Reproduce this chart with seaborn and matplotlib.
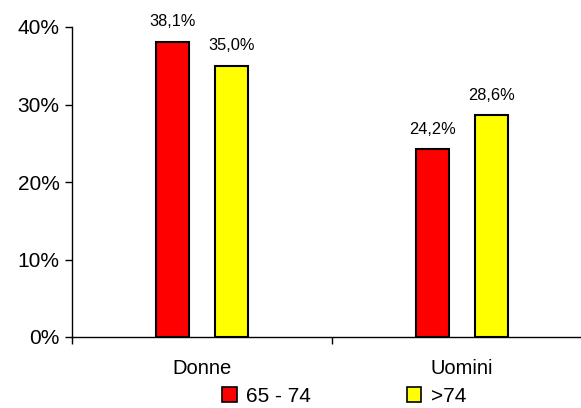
import matplotlib
matplotlib.use("Agg")
import matplotlib.pyplot as plt
from matplotlib.ticker import FixedLocator, FuncFormatter
from matplotlib.patches import Patch
import seaborn as sns
import pandas as pd

categories = ["Donne", "Uomini"]
groups = ["65 - 74", ">74"]
values_65_74 = [38.1, 24.2]
values_over74 = [35.0, 28.6]
colors = ["#FF0000", "#FFFF00"]
yticks = [0, 10, 20, 30, 40]

df = pd.DataFrame({
    "sesso": categories * 2,
    "eta": [groups[0]] * 2 + [groups[1]] * 2,
    "valore": values_65_74 + values_over74,
})

sns.set_style("white")
plt.rcParams["font.family"] = ["Liberation Sans", "DejaVu Sans"]
plt.rcParams["text.color"] = "black"
plt.rcParams["xtick.color"] = "black"
plt.rcParams["ytick.color"] = "black"

fig = plt.figure(figsize=(5.81, 4.08), dpi=100)
ax = fig.add_axes([72 / 581, 1 - 337 / 408, 520 / 581, 310 / 408])

sns.barplot(data=df, x="sesso", y="valore", hue="eta", order=categories,
            hue_order=groups, palette=colors, saturation=1, width=0.453, gap=0.426,
            edgecolor="black", linewidth=1.5, errorbar=None, legend=False, ax=ax)

ax.set_xlim(-0.5, 1.5)
ax.set_ylim(0, 40)
ax.yaxis.set_major_locator(FixedLocator(yticks))
ax.yaxis.set_major_formatter(FuncFormatter(lambda v, p: f"{v:.0f}%"))
ax.tick_params(axis="y", which="major", left=True, length=5, width=1,
               color="black", labelcolor="black", labelsize=15, pad=4)
ax.tick_params(axis="x", which="major", bottom=False, labelcolor="black",
               labelsize=14.5, pad=12)
ax.xaxis.set_minor_locator(FixedLocator([-0.5, 0.5, 1.5]))
ax.tick_params(axis="x", which="minor", bottom=True, length=5, width=1, color="black")
ax.set_xlabel("")
ax.set_ylabel("")
for s in ["top", "right"]:
    ax.spines[s].set_visible(False)
for s in ["left", "bottom"]:
    ax.spines[s].set_color("black")
    ax.spines[s].set_linewidth(1)

for cont in ax.containers:
    for bar in cont:
        h = bar.get_height()
        ax.annotate(f"{h:.1f}%".replace(".", ","),
                    (bar.get_x() + bar.get_width() / 2, h),
                    xytext=(0, 9), textcoords="offset points",
                    ha="center", va="bottom", fontsize=11.8, color="black")

handles = [Patch(facecolor=c, edgecolor="black", linewidth=1.2) for c in colors]
fig.legend(handles, groups, loc="lower center", bbox_to_anchor=(0.5 + 0.092, -0.04),
           ncol=2, frameon=False, fontsize=15, handlelength=0.7, handleheight=0.7,
           handletextpad=0.45, columnspacing=4.6)

fig.savefig("out.png", dpi=100)
